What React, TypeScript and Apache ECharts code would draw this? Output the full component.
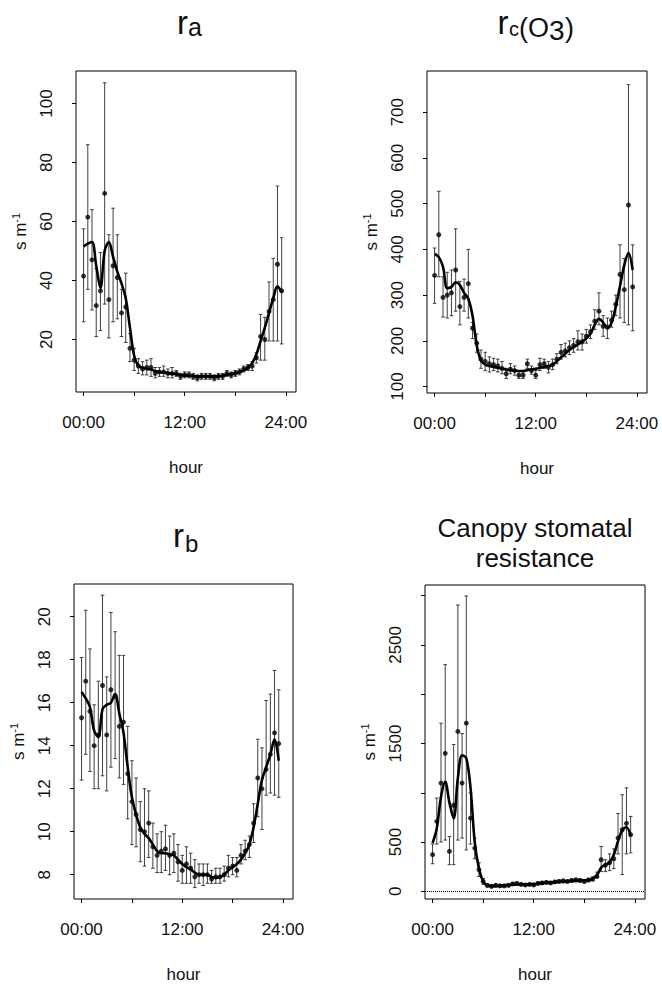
import React, { useEffect, useRef } from 'react';
import * as echarts from 'echarts';

// Half-hour time stamps (hours since midnight)
const hours = [0, 0.5, 1, 1.5, 2, 2.5, 3, 3.5, 4, 4.5, 5, 5.5, 6, 6.5, 7, 7.5, 8, 8.5, 9, 9.5, 10, 10.5, 11, 11.5,
  12, 12.5, 13, 13.5, 14, 14.5, 15, 15.5, 16, 16.5, 17, 17.5, 18, 18.5, 19, 19.5, 20, 20.5, 21, 21.5, 22, 22.5, 23, 23.5];

const xTicks = [0, 6, 12, 18, 24];
const xLabelTicks = [0, 12, 24];

// r_a
const raMean = [41.5, 61.5, 47, 31.5, 36.5, 69.5, 33.5, 45, 41, 29, 31, 17, 13, 11, 10, 10.5, 10.5, 8.5, 9, 9, 8.5, 8.5, 8.5, 7.5,
  8, 8, 7.5, 7, 7.5, 7.5, 7.5, 7, 7.5, 7.5, 8.5, 8, 8.5, 9, 10, 10.5, 11, 13.8, 21, 20, 29.5, 33.5, 45.5, 36.5];
const raLo = [26, 37, 30, 21, 23, 32, 20.5, 26, 27, 21, 19, 12.5, 9.5, 8.5, 8, 8, 7.5, 7, 7.5, 7.5, 7, 7, 7.5, 6.5,
  7, 7, 6.5, 6, 6.5, 6.5, 6.5, 6, 6.5, 6.5, 7.5, 7, 7.5, 8, 9, 9.5, 9.5, 12, 13, 13, 19.5, 19.5, 19.5, 18.5];
const raHi = [57.5, 86, 64, 44, 49.5, 107, 55.5, 64.5, 55.5, 37, 42.5, 22, 17, 13.5, 12.5, 13, 13.5, 10.5, 10.5, 11, 10, 10.5, 9.5, 8.5,
  9, 9, 8.5, 8, 8.5, 8.5, 8.5, 8, 8.5, 8.5, 9.5, 9, 9.5, 10, 11, 11.5, 12.5, 15.5, 28.5, 27.5, 39.5, 47.5, 72, 54.5];
const raSmooth = [51.5, 52.5, 53, 45, 37.5, 50, 53, 48, 43, 39, 34, 24, 14.5, 11, 10.5, 10, 9.8, 9.3, 9, 8.8, 8.6, 8.4, 8.2, 8,
  7.8, 7.7, 7.6, 7.5, 7.5, 7.5, 7.5, 7.5, 7.6, 7.8, 8, 8.3, 8.6, 9, 9.5, 10.5, 12, 15, 19.5, 24, 29, 34, 38, 36];
const raTicks = [20, 40, 60, 80, 100];

// r_c(O3)
const rcMean = [343, 432, 295, 300, 305, 355, 275, 295, 325, 228, 195, 160, 155, 150, 148, 145, 140, 128, 138, 135, 125, 125, 150, 135,
  125, 148, 150, 142, 148, 160, 175, 178, 185, 190, 198, 198, 210, 220, 243, 265, 232, 230, 245, 280, 345, 312, 497, 318];
const rcLo = [282, 340, 252, 250, 255, 265, 235, 265, 250, 205, 175, 140, 135, 132, 135, 132, 128, 118, 128, 125, 118, 118, 140, 127,
  118, 135, 140, 130, 137, 150, 160, 165, 170, 175, 180, 180, 195, 205, 225, 235, 210, 205, 230, 255, 250, 240, 235, 222];
const rcHi = [403, 527, 340, 350, 355, 445, 330, 335, 400, 240, 215, 180, 175, 165, 162, 160, 155, 140, 150, 145, 135, 132, 160, 145,
  135, 162, 160, 155, 160, 172, 192, 195, 200, 205, 222, 215, 225, 235, 268, 305, 255, 250, 265, 300, 410, 380, 760, 410];
const rcSmooth = [390, 383, 362, 315, 318, 328, 322, 305, 292, 255, 190, 157, 148, 145, 143, 141, 139, 137, 136, 135, 134, 134, 136, 138,
  139, 141, 143, 145, 148, 155, 164, 172, 180, 186, 192, 198, 206, 216, 235, 248, 240, 228, 240, 275, 320, 365, 392, 355];
const rcTicks = [100, 200, 300, 400, 500, 600, 700];

// r_b
const rbMean = [15.3, 17.0, 15.6, 14.0, 14.5, 16.8, 14.5, 16.6, 16.3, 14.9, 15.1, 12.7, 11.4, 10.8, 10.1, 10.0, 10.4, 9.3, 8.9, 9.1, 9.2, 8.9, 9.0, 8.6,
  8.2, 8.5, 8.3, 7.9, 8.0, 8.0, 8.0, 7.8, 7.9, 7.9, 8.0, 8.3, 8.4, 8.2, 8.9, 9.1, 9.4, 10.4, 12.5, 12.0, 12.9, 13.6, 14.6, 14.1];
const rbLo = [12.4, 13.6, 12.8, 12.0, 12.0, 12.6, 11.9, 13.0, 13.4, 12.5, 12.2, 10.6, 9.4, 9.3, 8.6, 8.4, 8.8, 8.3, 8.1, 8.1, 8.2, 8.0, 8.1, 7.7,
  7.6, 7.6, 7.6, 7.4, 7.6, 7.5, 7.6, 7.6, 7.6, 7.6, 7.7, 7.9, 8.0, 7.9, 8.5, 8.7, 8.8, 9.5, 10.7, 10.1, 11.7, 11.8, 11.7, 11.6];
const rbHi = [18.1, 20.3, 18.5, 15.9, 17.0, 21.0, 17.2, 20.2, 19.3, 18.2, 18.2, 14.9, 13.3, 12.5, 11.4, 12.0, 11.9, 10.4, 9.9, 10.0, 10.3, 9.8, 9.9, 9.4,
  8.9, 9.3, 9.0, 8.7, 8.5, 8.5, 8.5, 8.2, 8.3, 8.3, 8.4, 8.9, 8.8, 8.8, 9.4, 9.6, 9.8, 11.3, 14.3, 13.9, 16.1, 16.4, 17.5, 16.6];
const rbSmooth = [16.5, 16.2, 15.8, 14.7, 14.4, 15.7, 15.9, 16.0, 16.4, 15.5, 14.6, 13.0, 11.6, 10.8, 10.2, 9.9, 9.7, 9.4, 9.1, 9.0, 9.0, 8.95, 8.9, 8.7,
  8.5, 8.35, 8.25, 8.1, 8.0, 8.0, 8.0, 7.9, 7.85, 7.9, 8.0, 8.2, 8.35, 8.5, 8.7, 9.0, 9.4, 10.2, 11.3, 12.4, 13.0, 13.6, 14.3, 13.3];
const rbTicks = [8, 10, 12, 14, 16, 18, 20];

// Canopy stomatal resistance
const rsMean = [372, 709, 1098, 1400, 405, 873, 1622, 1098, 1706, 743, 439, 220, 101, 60, 50, 60, 55, 55, 60, 75, 80, 70, 65, 70,
  65, 80, 85, 90, 85, 95, 100, 105, 100, 110, 115, 110, 100, 115, 125, 150, 320, 265, 290, 330, 540, 625, 690, 575];
const rsLo = [280, 480, 500, 520, 270, 270, 520, 540, 420, 480, 330, 150, 70, 45, 38, 45, 42, 42, 47, 60, 65, 57, 52, 57,
  52, 65, 70, 75, 70, 80, 85, 88, 85, 95, 98, 95, 85, 98, 105, 140, 200, 200, 210, 230, 380, 170, 380, 390];
const rsHi = [480, 946, 1706, 2300, 557, 1490, 2905, 1600, 2997, 1000, 540, 290, 130, 75, 62, 75, 68, 68, 73, 90, 95, 83, 78, 83,
  78, 95, 100, 105, 100, 110, 115, 122, 115, 125, 132, 125, 115, 132, 145, 195, 455, 320, 380, 430, 790, 980, 1050, 760];
const rsSmooth = [490, 640, 960, 1110, 900, 740, 1150, 1380, 1350, 1050, 500, 230, 100, 60, 55, 55, 58, 60, 65, 68, 70, 72, 72, 72,
  73, 78, 83, 88, 90, 95, 98, 100, 102, 105, 108, 110, 112, 115, 130, 165, 240, 270, 295, 370, 510, 620, 650, 560];
const rsTicks = [0, 500, 1000, 1500, 2000, 2500, 3000];
const rsLabelTicks = [0, 500, 1500, 2500];

const FONT = '"Liberation Sans", Arial, Helvetica, sans-serif';
const INK = '#111';

type Panel = {
  grid: { left: number; top: number; width: number; height: number };
  yMin: number; yMax: number; yTicks: number[]; yLabels: number[];
  mean: number[]; lo: number[]; hi: number[]; smooth: number[];
  zero?: boolean;
};

const panels: Panel[] = [
  { grid: { left: 76, top: 71, width: 220, height: 321 }, yMin: 2.2, yMax: 111, yTicks: raTicks, yLabels: raTicks,
    mean: raMean, lo: raLo, hi: raHi, smooth: raSmooth },
  { grid: { left: 427, top: 71, width: 220, height: 322 }, yMin: 86, yMax: 790, yTicks: rcTicks, yLabels: rcTicks,
    mean: rcMean, lo: rcLo, hi: rcHi, smooth: rcSmooth },
  { grid: { left: 74, top: 584, width: 219, height: 315 }, yMin: 6.87, yMax: 21.52, yTicks: rbTicks, yLabels: rbTicks,
    mean: rbMean, lo: rbLo, hi: rbHi, smooth: rbSmooth },
  { grid: { left: 425, top: 585, width: 220, height: 314 }, yMin: -78, yMax: 3108, yTicks: rsTicks, yLabels: rsLabelTicks,
    mean: rsMean, lo: rsLo, hi: rsHi, smooth: rsSmooth, zero: true },
];

// A piece of a title: text, left x, baseline y, font size
type Piece = [string, number, number, number];
const titlePieces: Piece[] = [
  ['r', 177, 33.5, 33], ['a', 188, 35.5, 25],
  ['r', 497.5, 33.5, 33], ['c', 509, 35.5, 20], ['(O', 519, 37, 27], ['3', 549, 40, 28], [')', 565, 37.5, 27],
  ['r', 173, 547, 33], ['b', 185, 552, 24],
];

function buildOption() {
  const grid: any[] = [];
  const xAxis: any[] = [];
  const yAxis: any[] = [];
  const series: any[] = [];
  panels.forEach((p, k) => {
    grid.push({ ...p.grid, show: true, borderColor: '#000', borderWidth: 1, backgroundColor: 'transparent' });
    xAxis.push({
      type: 'value', gridIndex: k, min: -0.9, max: 25.2,
      axisLine: { show: false, onZero: false },
      axisTick: { show: true, customValues: xTicks, length: 4, lineStyle: { color: '#000', width: 1 } },
      axisLabel: {
        customValues: xLabelTicks, fontSize: 17, color: INK, fontFamily: FONT, margin: 22,
        formatter: (v: number) => (v < 10 ? '0' + v : String(v)) + ':00',
      },
      splitLine: { show: false },
      name: 'hour', nameLocation: 'middle', nameGap: 67,
      nameTextStyle: { fontSize: 17, color: INK, fontFamily: FONT },
    });
    yAxis.push({
      type: 'value', gridIndex: k, min: p.yMin, max: p.yMax,
      axisLine: { show: false, onZero: false },
      axisTick: { show: true, customValues: p.yTicks, length: 4, lineStyle: { color: '#000', width: 1 } },
      axisLabel: {
        customValues: p.yLabels, rotate: 90, fontSize: 17, color: INK, fontFamily: FONT, margin: 21,
        formatter: (v: number) => String(v),
      },
      splitLine: { show: false },
      name: '{a|s m}{b|-1}', nameLocation: 'middle', nameRotate: 90, nameGap: 46,
      nameTextStyle: {
        color: INK, fontFamily: FONT,
        rich: {
          a: { fontSize: 17, lineHeight: 20, fontFamily: FONT, color: INK },
          b: { fontSize: 11, lineHeight: 20, verticalAlign: 'top', fontFamily: FONT, color: INK },
        },
      },
    });
    series.push({
      type: 'custom', xAxisIndex: k, yAxisIndex: k, silent: true,
      data: hours.map((h, i) => [h, p.lo[i], p.hi[i]]),
      encode: { x: 0, y: [1, 2] },
      renderItem: (_params: any, api: any) => {
        const x = api.value(0);
        const a = api.coord([x, api.value(1)]);
        const b = api.coord([x, api.value(2)]);
        const c = 1.8;
        const st = { stroke: '#2a2a2a', lineWidth: 0.9 };
        return {
          type: 'group',
          children: [
            { type: 'line', shape: { x1: a[0], y1: a[1], x2: b[0], y2: b[1] }, style: st },
            { type: 'line', shape: { x1: a[0] - c, y1: a[1], x2: a[0] + c, y2: a[1] }, style: st },
            { type: 'line', shape: { x1: b[0] - c, y1: b[1], x2: b[0] + c, y2: b[1] }, style: st },
          ],
        };
      },
    });
    series.push({
      type: 'line', xAxisIndex: k, yAxisIndex: k, silent: true,
      data: hours.map((h, i) => [h, p.smooth[i]]),
      smooth: 0.35, showSymbol: false, symbol: 'none',
      lineStyle: { color: '#000', width: 2.6 },
      markLine: p.zero ? {
        silent: true, symbol: 'none', label: { show: false },
        lineStyle: { color: '#000', type: 'dotted', width: 1 },
        data: [{ yAxis: 0 }],
      } : undefined,
    });
    series.push({
      type: 'scatter', xAxisIndex: k, yAxisIndex: k, silent: true,
      data: hours.map((h, i) => [h, p.mean[i]]),
      symbol: 'circle', symbolSize: 5, itemStyle: { color: '#000' },
    });
  });

  // Liberation Sans central baseline sits ~0.3465 em above the alphabetic baseline
  const graphic: any[] = titlePieces.map(([t, x, base, fs]) => ({
    type: 'text', x, y: base - 0.3465 * fs, silent: true,
    style: { text: t, align: 'left', verticalAlign: 'middle', fontSize: fs, fontFamily: FONT, fill: INK },
  }));
  graphic.push({
    type: 'text', x: 535, y: 513, silent: true,
    style: {
      text: 'Canopy stomatal\nresistance', align: 'center', verticalAlign: 'top',
      fontSize: 26, lineHeight: 30, fontFamily: FONT, fill: INK,
    },
  });

  return {
    animation: false,
    backgroundColor: '#fff',
    grid, xAxis, yAxis, series, graphic,
  };
}

export default function App() {
  const ref = useRef<HTMLDivElement>(null);
  useEffect(() => {
    if (!ref.current) return;
    const chart = echarts.init(ref.current, null, { renderer: 'svg' });
    chart.setOption(buildOption() as any);
    return () => chart.dispose();
  }, []);
  return (
    <div
      ref={ref}
      style={{ position: 'fixed', left: 0, top: 0, width: 662, height: 995, background: '#fff' }}
    />
  );
}
